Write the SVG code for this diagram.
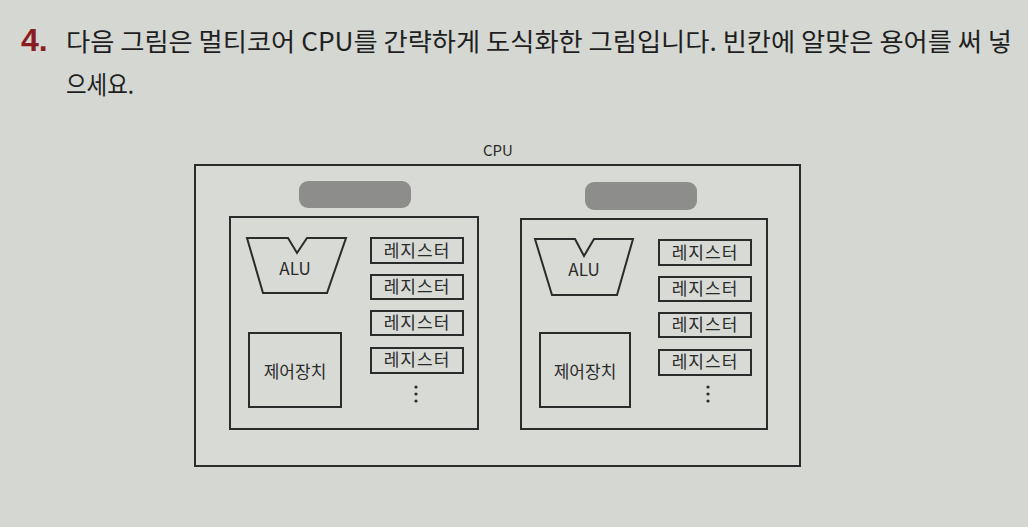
<svg xmlns="http://www.w3.org/2000/svg" width="1028" height="527" viewBox="0 0 1028 527">
<style>
.ln{fill:none;stroke:#2b2b2b;stroke-width:2;stroke-linejoin:miter}
.bx{fill:#d8dad5;stroke:#2b2b2b;stroke-width:2}
.pill{fill:#8d8e8b;stroke:none}
.t{font-family:"Noto Sans CJK KR","Noto Sans",sans-serif;fill:#2a2a2a}
.lbl{font-size:17px;text-anchor:middle}
.hd{font-size:25px;fill:#1f1f1f}
.dot{fill:#2b2b2b}
</style>
<rect width="1028" height="527" fill="#d4d7d2"/>
<g id="question">
<text x="21" y="51" font-family="'Liberation Sans',sans-serif" font-weight="bold" font-size="32" fill="#8a1c22">4.</text>
<text class="t hd" x="66" y="51" textLength="946" lengthAdjust="spacingAndGlyphs">다음 그림은 멀티코어 CPU를 간략하게 도식화한 그림입니다. 빈칸에 알맞은 용어를 써 넣</text>
<text class="t hd" x="66" y="94" textLength="68" lengthAdjust="spacingAndGlyphs">으세요.</text>
</g>
<g id="cpu">
<text class="t" x="498" y="156" font-size="15" text-anchor="middle">CPU</text>
<rect class="bx" x="195" y="165" width="605" height="301"/>
</g>
<g id="core1">
<rect class="pill" x="299" y="181" width="112" height="27" rx="9"/>
<rect class="bx" x="230" y="217" width="248" height="212"/>
<g id="alu1">
<path class="ln" d="M247,238 L288,238 L297,253 L307,238 L346,238 L327,293 L263,293 Z"/>
<text class="t lbl" x="295" y="275" font-size="14">ALU</text>
</g>
<g id="ctrl1">
<rect class="bx" x="249" y="333" width="92" height="74"/>
<text class="t lbl" x="295" y="378">제어장치</text>
</g>
<g id="regs1">
<rect class="bx" x="371" y="238" width="92" height="25"/>
<text class="t lbl" x="417" y="257" letter-spacing="1">레지스터</text>
<rect class="bx" x="371" y="275" width="92" height="24"/>
<text class="t lbl" x="417" y="293" letter-spacing="1">레지스터</text>
<rect class="bx" x="371" y="311" width="92" height="24"/>
<text class="t lbl" x="417" y="329" letter-spacing="1">레지스터</text>
<rect class="bx" x="371" y="348" width="92" height="25"/>
<text class="t lbl" x="417" y="366" letter-spacing="1">레지스터</text>
<circle class="dot" cx="416" cy="387" r="1.6"/>
<circle class="dot" cx="416" cy="394" r="1.6"/>
<circle class="dot" cx="416" cy="401" r="1.6"/>
</g>
</g>
<g id="core2">
<rect class="pill" x="585" y="182" width="112" height="28" rx="9"/>
<rect class="bx" x="521" y="219" width="246" height="210"/>
<g id="alu2">
<path class="ln" d="M535,239 L575,239 L584,256 L594,239 L633,239 L617,295 L552,295 Z"/>
<text class="t lbl" x="584" y="276" font-size="14">ALU</text>
</g>
<g id="ctrl2">
<rect class="bx" x="540" y="333" width="90" height="74"/>
<text class="t lbl" x="585" y="378">제어장치</text>
</g>
<g id="regs2">
<rect class="bx" x="659" y="240" width="92" height="25"/>
<text class="t lbl" x="705" y="259" letter-spacing="1">레지스터</text>
<rect class="bx" x="659" y="277" width="92" height="24"/>
<text class="t lbl" x="705" y="295" letter-spacing="1">레지스터</text>
<rect class="bx" x="659" y="313" width="92" height="24"/>
<text class="t lbl" x="705" y="331" letter-spacing="1">레지스터</text>
<rect class="bx" x="659" y="350" width="92" height="25"/>
<text class="t lbl" x="705" y="368" letter-spacing="1">레지스터</text>
<circle class="dot" cx="708" cy="387" r="1.6"/>
<circle class="dot" cx="708" cy="394" r="1.6"/>
<circle class="dot" cx="708" cy="401" r="1.6"/>
</g>
</g>
<g id="connectors"/>
</svg>
